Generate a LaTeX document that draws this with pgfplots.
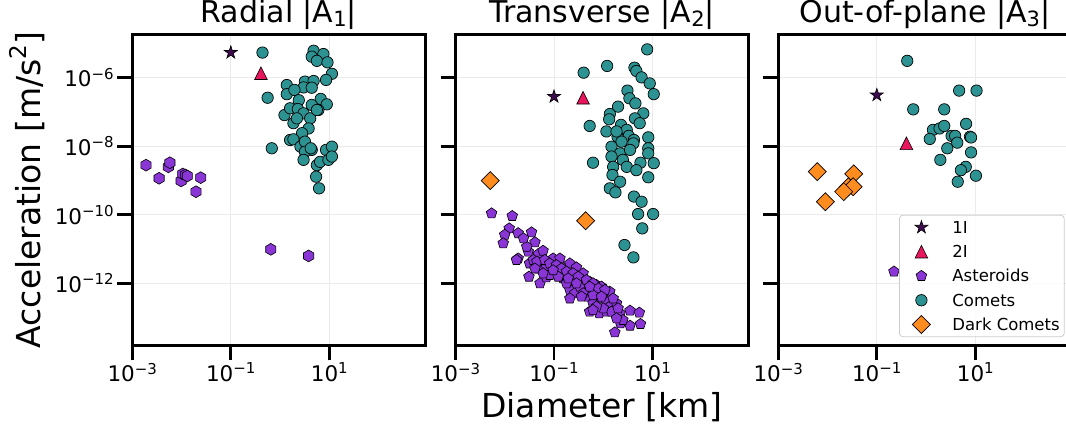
\documentclass[border=0pt]{standalone}
\usepackage{fontspec}
\setmainfont{DejaVu Sans}
\usepackage{pgfplots}
\pgfplotsset{compat=1.18}

\definecolor{cI}{HTML}{3F0C51}
\definecolor{cII}{HTML}{E8175D}
\definecolor{cAst}{HTML}{8A35D6}
\definecolor{cCom}{HTML}{2D9292}
\definecolor{cDark}{HTML}{FF8C1F}
\definecolor{gridc}{HTML}{EBEBEB}
\definecolor{legc}{HTML}{CCCCCC}

\newcommand\pw[1]{10\raisebox{0.36em}{\fontsize{15}{15}\selectfont #1}}

\pgfdeclareplotmark{hexa*}{%
  \pgfpathmoveto{\pgfpointpolar{90}{\pgfplotmarksize}}%
  \pgfpathlineto{\pgfpointpolar{150}{\pgfplotmarksize}}%
  \pgfpathlineto{\pgfpointpolar{210}{\pgfplotmarksize}}%
  \pgfpathlineto{\pgfpointpolar{270}{\pgfplotmarksize}}%
  \pgfpathlineto{\pgfpointpolar{330}{\pgfplotmarksize}}%
  \pgfpathlineto{\pgfpointpolar{30}{\pgfplotmarksize}}%
  \pgfpathclose\pgfusepathqfillstroke}
\pgfdeclareplotmark{penta*}{%
  \pgfpathmoveto{\pgfpointpolar{90}{\pgfplotmarksize}}%
  \pgfpathlineto{\pgfpointpolar{162}{\pgfplotmarksize}}%
  \pgfpathlineto{\pgfpointpolar{234}{\pgfplotmarksize}}%
  \pgfpathlineto{\pgfpointpolar{306}{\pgfplotmarksize}}%
  \pgfpathlineto{\pgfpointpolar{18}{\pgfplotmarksize}}%
  \pgfpathclose\pgfusepathqfillstroke}
\pgfdeclareplotmark{starf*}{%
  \pgfpathmoveto{\pgfpointpolar{90}{\pgfplotmarksize}}%
  \pgfpathlineto{\pgfpointpolar{126}{0.382*\pgfplotmarksize}}%
  \pgfpathlineto{\pgfpointpolar{162}{\pgfplotmarksize}}%
  \pgfpathlineto{\pgfpointpolar{198}{0.382*\pgfplotmarksize}}%
  \pgfpathlineto{\pgfpointpolar{234}{\pgfplotmarksize}}%
  \pgfpathlineto{\pgfpointpolar{270}{0.382*\pgfplotmarksize}}%
  \pgfpathlineto{\pgfpointpolar{306}{\pgfplotmarksize}}%
  \pgfpathlineto{\pgfpointpolar{342}{0.382*\pgfplotmarksize}}%
  \pgfpathlineto{\pgfpointpolar{18}{\pgfplotmarksize}}%
  \pgfpathlineto{\pgfpointpolar{54}{0.382*\pgfplotmarksize}}%
  \pgfpathclose\pgfusepathqfillstroke}
\pgfdeclareplotmark{tri*}{%
  \pgfpathmoveto{\pgfqpoint{0pt}{\pgfplotmarksize}}%
  \pgfpathlineto{\pgfqpoint{-\pgfplotmarksize}{-\pgfplotmarksize}}%
  \pgfpathlineto{\pgfqpoint{\pgfplotmarksize}{-\pgfplotmarksize}}%
  \pgfpathclose\pgfusepathqfillstroke}
\pgfdeclareplotmark{dia*}{%
  \pgfpathmoveto{\pgfqpoint{0pt}{\pgfplotmarksize}}%
  \pgfpathlineto{\pgfqpoint{\pgfplotmarksize}{0pt}}%
  \pgfpathlineto{\pgfqpoint{0pt}{-\pgfplotmarksize}}%
  \pgfpathlineto{\pgfqpoint{-\pgfplotmarksize}{0pt}}%
  \pgfpathclose\pgfusepathqfillstroke}

\pgfplotsset{
  sI/.style={only marks, mark=starf*, mark size=6.8pt, mark options={fill=cI, draw=black, line width=0.6pt}},
  sII/.style={only marks, mark=tri*, mark size=6.3pt, mark options={fill=cII, draw=black, line width=0.6pt}},
  sAst/.style={only marks, mark=penta*, mark size=5.6pt, mark options={fill=cAst, draw=black, line width=0.6pt}},
  sHex/.style={only marks, mark=hexa*, mark size=5.9pt, mark options={fill=cAst, draw=black, line width=0.6pt}},
  sCom/.style={only marks, mark=*, mark size=5.7pt, mark options={fill=cCom, draw=black, line width=0.7pt}},
  sDark/.style={only marks, mark=dia*, mark size=9pt, mark options={fill=cDark, draw=black, line width=0.7pt}},
  every axis/.append style={
    xmode=log, ymode=log, scale only axis, width=293pt, height=311pt,
    xmin=1e-3, xmax=890, ymin=1.53e-14, ymax=1.82e-5,
    axis line style={line width=2.7pt, line cap=rect},
    tick pos=left, tick align=outside, major tick length=15pt,
    every tick/.style={black, line width=2.7pt},
    xminorticks=false, yminorticks=false,
    xtick={1e-3,1e-1,1e1}, xticklabels={\pw{−3},\pw{−1},\pw{1}},
    ytick={1e-12,1e-10,1e-8,1e-6},
    xticklabel shift=-1pt,
    grid=major, major grid style={gridc, line width=0.9pt},
    tick label style={font=\fontsize{21.5}{24}\selectfont},
    title style={font=\fontsize{30}{36}\selectfont, at={(0.5,1)}, anchor=base, yshift=6.5pt},
  },
}

\begin{document}
\begin{tikzpicture}
\begin{scope}
\clip (0,0) rectangle (1066pt,426pt);

% ---------------- Radial
\begin{axis}[at={(132.3pt,80.5pt)}, anchor=south west,
  title={Radial |A\raisebox{-0.15em}{\fontsize{21}{21}\selectfont 1}|},
  yticklabels={\pw{−12},\pw{−10},\pw{−8},\pw{−6}},
  ylabel={Acceleration [m/s\raisebox{0.42em}{\fontsize{23}{23}\selectfont 2}]},
  ylabel style={font=\fontsize{33}{40}\selectfont, at={(axis description cs:-0.315,0.5)}, anchor=base},
]
\addplot[sI] coordinates {(0.1,5.4e-6)};
\addplot[sII] coordinates {(0.41,1.35e-6)};
\addplot[sHex] coordinates {(1.9e-3,2.8e-9) (3.5e-3,1.16e-9) (5.4e-3,2.5e-9) (5.8e-3,3.3e-9)
 (9.8e-3,9.7e-10) (1.06e-2,1.55e-9) (1.2e-2,1.45e-9) (1.31e-2,1.35e-9) (1.97e-2,4.7e-10) (2.45e-2,1.21e-9)
 (0.65,9.8e-12) (3.8,6.3e-12)};
\addplot[sCom] coordinates {(0.44,5.4e-6) (4.8,6.1e-6) (7.6,4.9e-6) (4.4,4.1e-6) (5.6,3.1e-6) (9.2,2.8e-6)
 (11.3,1.3e-6) (8.6,8.6e-7) (1.37,6.1e-7) (3.2,7.7e-7) (4.8,8.0e-7) (3.0,5.2e-7) (4.4,5.1e-7)
 (1.37,3.3e-7) (1.96,4.4e-7) (0.56,2.6e-7) (6.7,2.4e-7) (8.9,1.67e-7) (2.4,2.2e-7) (4.4,1.6e-7)
 (6.0,1.14e-7) (1.23,8.1e-8) (1.6,1.28e-7) (2.3,1.22e-7) (3.0,9.1e-8) (4.1,6.5e-8) (5.6,1.14e-7)
 (1.87,4.7e-8) (2.2,6.5e-8) (3.8,3.3e-8) (2.8,2.4e-8) (1.6,1.52e-8) (1.87,1.59e-8) (2.6,9.7e-9)
 (3.2,1.36e-8) (4.4,7.8e-9) (0.68,8.7e-9) (8.6,7.8e-9) (11.3,9.7e-9) (3.2,6.9e-9) (5.6,2.8e-9)
 (3.0,4.0e-9) (6.5,3.5e-9) (9.6,4.0e-9) (11.3,5.0e-9) (5.4,1.29e-9) (6.2,5.9e-10) (4.2,8.7e-9)};
\end{axis}

% ---------------- Transverse
\begin{axis}[at={(455.5pt,80.5pt)}, anchor=south west,
  title={Transverse |A\raisebox{-0.15em}{\fontsize{21}{21}\selectfont 2}|},
  yticklabels={},
  xlabel={Diameter [km]},
  xlabel style={font=\fontsize{33}{40}\selectfont, at={(axis description cs:0.5,-0.233)}, anchor=base},
]
\addplot[sI] coordinates {(0.1,2.8e-7)};
\addplot[sII] coordinates {(0.39,2.6e-7)};
\addplot[sAst] coordinates {(5.4e-3,1.1e-10) (1.42e-2,9.2e-11) (1.23e-2,4.0e-11) (1.87e-2,2.9e-11)
 (3.5e-2,3.07e-11) (1.0e-2,2.6e-11) (9.3e-3,1.47e-11) (4.1e-2,1.57e-11) (1.87e-2,5.3e-12) (3.0e-2,8.4e-12)
 (4.8e-2,7.1e-12) (6.0e-2,8.9e-12) (9.6e-2,5.3e-12) (0.132,5.3e-12) (3.2e-2,3.8e-12) (4.8e-2,2.7e-12)
 (7.0e-2,3.2e-12) (0.104,2.4e-12) (0.166,2.7e-12) (0.21,3.8e-12) (0.286,2.9e-12) (3.1e-2,1.56e-12)
 (5.2e-2,1.0e-12) (7.0e-2,1.49e-12) (0.153,1.39e-12) (0.245,1.25e-12) (0.36,1.39e-12) (0.53,1.11e-12)
 (0.73,8.9e-13) (0.21,6.4e-13) (0.265,5.1e-13) (0.42,6.4e-13) (0.58,7.1e-13) (0.92,8.0e-13)
 (1.36,5.7e-13) (0.21,3.6e-13) (0.49,4.1e-13) (0.79,3.6e-13) (1.16,2.9e-13) (0.53,1.49e-13)
 (0.83,1.33e-13) (1.36,2.1e-13) (1.72,1.33e-13) (2.2,1.33e-13) (3.5,1.59e-13) (5.4,1.39e-13)
 (2.24,6.8e-14) (3.5,5.8e-14) (5.7,6.5e-14) (1.72,3.7e-14) (2.8e-2,1.17e-11) (2.4e-2,2.05e-11)
 (3.8e-2,4.8e-12) (8.2e-2,1.75e-12) (0.18,1.0e-12) (0.335,8.0e-13) (0.39,1.95e-12) (1.0,5.1e-13)
 (0.62,2.6e-13) (1.86,2.6e-13) (1.16,1.49e-13) (2.5,8.5e-14) (0.166,1.75e-12)
 (1.73e-2,4.8e-12) (4.5e-2,4.3e-12) (6.5e-2,4.8e-12) (8.2e-2,3.8e-12) (0.112,3.4e-12) (0.142,2.7e-12)
 (0.18,2.2e-12) (0.245,1.95e-12) (0.31,1.56e-12) (0.457,1.25e-12) (0.62,1.0e-12) (0.79,7.1e-13)
 (1.08,6.4e-13) (0.39,5.1e-13) (0.62,4.5e-13) (0.92,4.1e-13) (1.59,3.6e-13) (0.53,8.0e-13)
 (0.286,1.0e-12) (0.194,1.39e-12) (0.122,1.56e-12) (9.6e-2,2.4e-12) (6.0e-2,1.95e-12) (4.1e-2,2.7e-12)
 (1.47,1.49e-13) (1.0,1.86e-13) (0.73,2.1e-13) (2.0,1.86e-13) (1.86,9.5e-14) (0.36,4.1e-13) (0.62,1.66e-13)};
\addplot[sCom] coordinates {(7.8,6.7e-6) (1.2,2.2e-6) (0.40,1.4e-6) (4.3,1.96e-6) (4.7,1.57e-6)
 (6.0,1.02e-6) (8.8,6.8e-7) (10.6,3.3e-7) (3.1,4.2e-7) (3.4,2.5e-7) (4.5,1.78e-7) (2.0,1.43e-7)
 (6.5,9.1e-8) (1.36,8.7e-8) (1.32,6.1e-8) (0.53,3.9e-8) (4.4,6.5e-8) (5.5,4.7e-8) (2.3,4.2e-8)
 (1.16,2.7e-8) (3.0,3.0e-8) (3.3,2.0e-8) (4.2,1.52e-8) (8.2,1.82e-8) (1.95,1.9e-8) (2.35,1.36e-8)
 (1.47,9.7e-9) (2.2,6.2e-9) (4.1,1.21e-8) (8.2,8.7e-9) (8.2,6.2e-9) (1.47,5.0e-9) (2.5,4.0e-9)
 (5.7,3.3e-9) (10.6,3.2e-9) (0.62,3.3e-9) (1.59,2.5e-9) (3.0,2.5e-9) (4.7,2.0e-9) (1.54,1.45e-9)
 (2.2,9.2e-10) (8.2,1.24e-9) (1.36,5.9e-10) (1.77,4.5e-10) (4.2,3.4e-10) (6.0,2.4e-10)
 (5.1,1.05e-10) (10.3,1.05e-10) (6.2,4.0e-11) (2.7,1.31e-11) (4.1,5.7e-12) (3.5,7.8e-9) (1.86,2.7e-8)};
\addplot[sDark] coordinates {(5.1e-3,9.9e-10) (0.44,6.7e-11)};
\end{axis}

% ---------------- Out-of-plane
\begin{axis}[at={(778.3pt,80.5pt)}, anchor=south west,
  title={Out-of-plane |A\raisebox{-0.15em}{\fontsize{21}{21}\selectfont 3}|},
  yticklabels={},
  legend cell align=left,
  legend style={at={(0.412,0.027)}, anchor=south west, draw=legc, line width=0.8pt,
    rounded corners=3.5pt, fill=white, fill opacity=0.8, text opacity=1, draw opacity=1,
    font=\fontsize{16.5}{20}\selectfont, inner xsep=4.5pt, inner ysep=0pt, row sep=0pt,
    nodes={inner sep=0pt, text height=18.15pt, text depth=6.15pt},
    /tikz/every odd column/.append style={column sep=17.5pt}},
  legend image code/.code={%
    \begin{pgfinterruptboundingbox}\draw[#1, sharp corners, fill opacity=1] plot coordinates {(17.5pt,0pt)};\end{pgfinterruptboundingbox}
    \pgfpathrectangle{\pgfpoint{0pt}{-12.15pt}}{\pgfpoint{31pt}{24.3pt}}\pgfusepath{use as bounding box}},
]
\addplot[sI] coordinates {(0.1,3.1e-7)};
\addlegendentry{1I}
\addplot[sII] coordinates {(0.40,1.22e-8)};
\addlegendentry{2I}
\addplot[sAst] coordinates {(0.223,2.2e-12)};
\addlegendentry{Asteroids}
\addplot[sCom] coordinates {(0.415,3.1e-6) (4.7,4.2e-7) (10.6,4.2e-7) (0.55,1.19e-7) (2.34,1.19e-7)
 (1.38,3.0e-8) (1.88,3.3e-8) (2.34,3.9e-8) (6.5,4.5e-8) (1.19,1.63e-8) (3.3,2.0e-8) (3.9,2.0e-8)
 (4.3,1.27e-8) (7.8,1.9e-8) (2.7,8.7e-9) (8.2,6.6e-9) (1.95,4.0e-9) (6.4,2.5e-9) (5.1,2.0e-9)
 (10.3,1.38e-9) (4.4,9.2e-10) (8.2,1.8e-8)};
\addlegendentry{Comets}
\addplot[sDark] coordinates {(6.2e-3,1.81e-9) (3.4e-2,1.55e-9) (9.0e-3,2.4e-10) (2.65e-2,6.6e-10)
 (3.3e-2,6.6e-10) (2.13e-2,4.7e-10)};
\addlegendentry{Dark Comets}
\end{axis}
\end{scope}
\pgfresetboundingbox
\useasboundingbox (0,0) rectangle (1066pt,426pt);
\end{tikzpicture}
\end{document}
